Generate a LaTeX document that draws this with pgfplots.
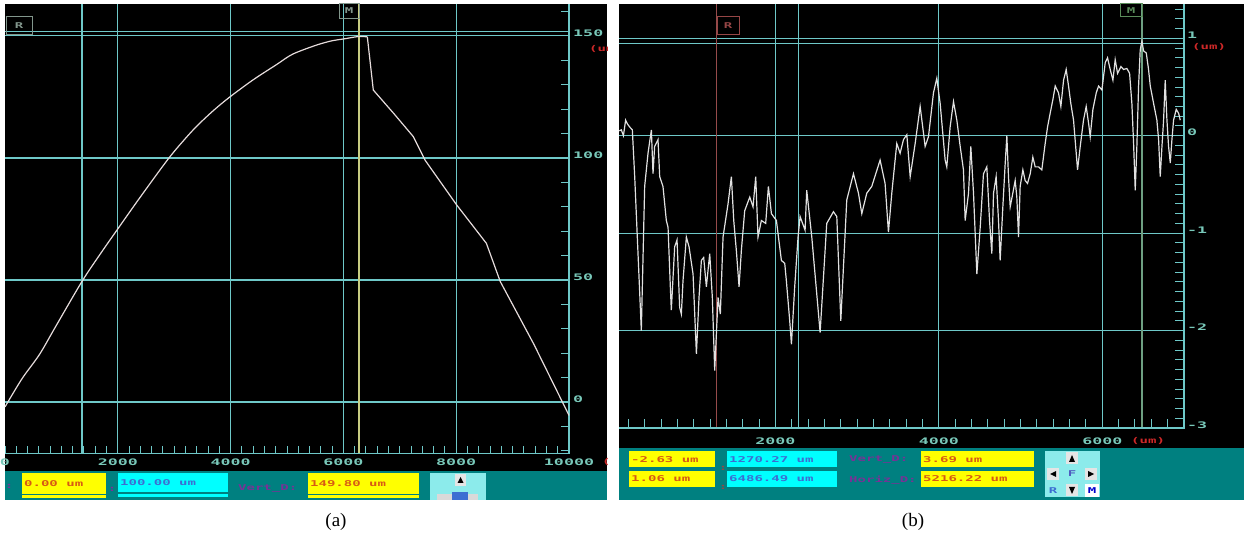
\documentclass[border=0pt]{standalone}
\usepackage{pgfplots}
\pgfplotsset{compat=1.18}
\usepackage{pgfplotstable}
\usepackage{graphicx}
\usepackage{fontspec}
\setmainfont{Liberation Serif}
\newfontfamily\scr{DejaVu Sans Mono}
\definecolor{gridc}{RGB}{110,200,200}
\definecolor{labc}{RGB}{120,200,185}
\definecolor{tealbar}{RGB}{0,128,128}
\definecolor{ybox}{RGB}{255,255,0}
\definecolor{yboxtxt}{RGB}{215,90,20}
\definecolor{cbox}{RGB}{0,255,255}
\definecolor{cboxtxt}{RGB}{60,110,210}
\definecolor{purp}{RGB}{120,50,150}
\definecolor{redlab}{RGB}{205,40,40}
\definecolor{curveA}{RGB}{230,220,220}
\definecolor{curveB}{RGB}{225,225,225}
\definecolor{cursM}{RGB}{200,205,130}
\definecolor{boxg}{RGB}{130,150,140}
\definecolor{boxr}{RGB}{150,70,70}
\definecolor{boxm}{RGB}{90,140,90}
\definecolor{cursR}{RGB}{150,75,75}
\definecolor{cursMb}{RGB}{110,160,130}
\definecolor{iconbg}{RGB}{140,235,235}
\newcommand{\tl}[1]{\scalebox{1.85}[1]{\scr\bfseries\fontsize{9}{9}\selectfont #1}}
\newcommand{\st}[1]{\scalebox{1.75}[1]{\scr\bfseries\fontsize{8}{8}\selectfont #1}}

% rising part of profile (a)
\pgfplotstableread{
x y
0 -2
300 9.5
612 19.5
900 31
1370 49.6
1700 61
1993 70.7
2400 84
2891 99.5
3200 108
3417 113.4
3700 119.5
3977 124.8
4400 132
4819 138.3
5100 142.5
5520 146.2
5800 148
5997 148.7
6257 149.7
6424 149.6
}\dataAup
% falling part of profile (a)
\pgfplotstableread{
x y
6424 149.6
6530 127.8
6900 118
7240 108.7
7447 99.1
8009 80.7
8535 65
8780 49.4
9376 23.7
10000 -5.5
}\dataAdown

\pgfplotstableread{
x y
90 0.05
114 0.06
140 0.0
167 0.16
190 0.12
216 0.09
249 0.06
278 -0.42
318 -1.20
359 -2.00
400 -0.52
441 -0.18
482 0.06
502 -0.39
522 -0.11
563 -0.04
584 -0.42
624 -0.52
665 -0.87
686 -0.94
714 -1.55
726 -1.79
767 -1.14
796 -1.07
828 -1.76
849 -1.83
869 -1.49
910 -1.04
943 -1.14
992 -1.42
1033 -2.24
1065 -1.66
1094 -1.28
1122 -1.25
1155 -1.55
1196 -1.21
1228 -1.66
1257 -2.41
1298 -1.66
1326 -1.83
1359 -1.04
1420 -0.70
1461 -0.42
1490 -0.87
1522 -1.18
1555 -1.55
1583 -1.18
1624 -0.77
1686 -0.63
1726 -0.73
1759 -0.42
1787 -1.04
1828 -0.87
1881 -0.90
1914 -0.52
1951 -0.80
2012 -0.87
2073 -1.28
2114 -1.31
2134 -1.49
2175 -1.90
2196 -2.14
2236 -1.55
2277 -1.04
2302 -0.83
2363 -0.97
2383 -0.56
2445 -1.04
2547 -2.02
2628 -0.90
2710 -0.78
2751 -0.83
2800 -1.90
2873 -0.66
2955 -0.39
3016 -0.59
3057 -0.80
3118 -0.59
3179 -0.52
3281 -0.25
3342 -0.49
3383 -0.99
3424 -0.59
3485 -0.08
3526 -0.18
3567 -0.04
3608 0.01
3649 -0.42
3710 -0.08
3771 0.30
3832 -0.11
3873 -0.01
3934 0.44
3975 0.59
4016 0.33
4077 -0.25
4097 -0.32
4138 0.09
4179 0.35
4220 0.16
4261 -0.11
4301 -0.35
4322 -0.87
4363 -0.59
4391 -0.11
4424 -0.59
4465 -1.42
4506 -0.94
4546 -0.39
4587 -0.32
4620 -0.87
4648 -1.21
4669 -0.59
4701 -0.42
4730 -0.87
4750 -1.28
4783 -0.73
4812 -0.28
4832 0.00
4852 -0.42
4873 -0.73
4905 -0.59
4934 -0.46
4954 -0.63
4975 -1.04
4995 -0.52
5028 -0.35
5056 -0.46
5085 -0.49
5118 -0.39
5150 -0.22
5179 -0.32
5220 -0.32
5260 -0.35
5301 -0.08
5330 0.09
5362 0.23
5395 0.37
5424 0.51
5464 0.44
5493 0.30
5526 0.57
5558 0.68
5587 0.51
5615 0.33
5648 0.16
5681 -0.18
5697 -0.35
5730 -0.11
5770 0.16
5803 0.30
5832 0.13
5852 -0.01
5885 0.27
5926 0.44
5954 0.51
5995 0.47
6036 0.75
6064 0.80
6097 0.68
6130 0.57
6158 0.78
6187 0.64
6228 0.71
6260 0.68
6301 0.69
6334 0.64
6362 0.33
6383 -0.08
6403 -0.56
6423 -0.11
6444 0.51
6464 0.88
6485 0.97
6505 0.87
6538 0.85
6566 0.68
6587 0.51
6628 0.33
6668 0.16
6689 -0.04
6709 -0.42
6730 -0.11
6750 0.16
6770 0.57
6791 0.16
6811 -0.11
6832 -0.28
6852 -0.04
6872 0.16
6905 0.27
6934 0.23
6954 0.16
}\dataB

\begin{document}
\begin{tikzpicture}
\begin{scope}[x=1pt,y=-1pt]
\path[use as bounding box] (0,0) rectangle (1244,545);
\fill[black] (5,4) rectangle (607,471);
\fill[black] (619,4) rectangle (1244,448.4);
\end{scope}

% ---------------- panel (a)
\begin{axis}[at={(5pt,-453.6pt)}, anchor=south west, scale only axis,
  width=564pt, height=449.6pt,
  xmin=0, xmax=10000, ymin=-21.14, ymax=163.05,
  axis line style={draw=none}, clip=false,
  xtick={0,2000,4000,6000,8000,10000},
  xticklabels={\tl{0},\tl{2000},\tl{4000},\tl{6000},\tl{8000},\tl{10000}},
  minor xtick={200,400,...,9800},
  ytick={0,50,100,150}, yticklabels={\tl{0},\tl{50},\tl{100},\tl{150}},
  minor ytick={-20,-10,...,160},
  xtick pos=left, ytick pos=right, xticklabel pos=left, yticklabel pos=right,
  tick align=inside, major tick length=8pt, minor tick length=8pt,
  tick style={gridc, line width=1pt},
  xticklabel style={anchor=center, yshift=-8.5pt, text=labc, inner sep=0pt},
  yticklabel style={anchor=west, xshift=4pt, yshift=3pt, text=labc, inner sep=0pt},
]
\foreach \v in {2000,4000,6000,8000}{\edef\tmp{\noexpand\draw[gridc, line width=1.2pt] (\v,-21.14) -- (\v,163.05);}\tmp}
\foreach \v in {0,50,100,150}{\edef\tmp{\noexpand\draw[gridc, line width=1.2pt] (0,\v) -- (10000,\v);}\tmp}
\draw[gridc, line width=1.2pt] (0,151.7) -- (10000,151.7);
\draw[gridc, line width=1.2pt] (1365,-21.14) -- (1365,163.05);
\draw[cursM, line width=1.2pt] (6277,-21.14) -- (6277,163.05);
\draw[gridc, line width=1.2pt] (0,-21.14) -- (10000,-21.14) -- (10000,163.05);
\addplot[curveA, line width=1.2pt, smooth, tension=0.5] table {\dataAup};
\addplot[curveA, line width=1.2pt] table {\dataAdown};
\end{axis}

% ---------------- panel (b)
\begin{axis}[at={(619pt,-428pt)}, anchor=south west, scale only axis,
  width=565pt, height=424pt,
  xmin=86, xmax=7000, ymin=-3, ymax=1.352,
  axis line style={draw=none}, clip=false,
  xtick={2000,4000,6000},
  xticklabels={\tl{2000},\tl{4000},\tl{6000}},
  minor xtick={200,400,...,6800},
  ytick={-3,-2,-1,0,1}, yticklabels={\tl{-3},\tl{-2},\tl{-1},\tl{0},\tl{1}},
  minor ytick={-2.9,-2.8,...,1.3},
  xtick pos=left, ytick pos=right, xticklabel pos=left, yticklabel pos=right,
  tick align=inside, major tick length=9pt, minor tick length=9pt,
  tick style={gridc, line width=1pt},
  xticklabel style={anchor=center, yshift=-13pt, text=labc, inner sep=0pt},
  yticklabel style={anchor=west, xshift=3pt, yshift=3pt, text=labc, inner sep=0pt},
]
\foreach \v in {2000,2281,4000,6000}{\edef\tmp{\noexpand\draw[gridc, line width=1.2pt] (\v,-3) -- (\v,1.352);}\tmp}
\foreach \v in {-2,-1,0,1}{\edef\tmp{\noexpand\draw[gridc, line width=1.2pt] (86,\v) -- (7000,\v);}\tmp}
\draw[gridc, line width=1.2pt] (86,0.948) -- (7000,0.948);
\draw[cursR, line width=1.2pt] (1277,-3) -- (1277,1.352);
\draw[cursMb, line width=1.2pt] (6485,-3) -- (6485,1.352);
\draw[gridc, line width=1.2pt] (86,-3) -- (7000,-3) -- (7000,1.352);
\addplot[curveB, line width=1.2pt] table {\dataB};
\end{axis}

\begin{scope}[x=1pt,y=-1pt]
% cursor boxes
\draw[boxg, line width=1pt] (6,17) rectangle (32,35);
\node[text=boxg, inner sep=0] at (19,26) {\st{R}};
\draw[boxg, line width=1pt] (339,4) rectangle (359,19);
\node[text=boxg, inner sep=0] at (349,11) {\st{M}};
\draw[boxr, line width=1pt] (717,17) rectangle (739,35);
\node[text=boxr, inner sep=0] at (728,26) {\st{R}};
\draw[boxm, line width=1pt] (1120,4) rectangle (1142,17);
\node[text=boxm, inner sep=0] at (1131,10.5) {\st{M}};
% red unit labels
\begin{scope}
\clip (5,4) rectangle (607,471);
\node[anchor=west, text=redlab, inner sep=0] at (589,49) {\st{(um)}};
\node[anchor=west, text=redlab, inner sep=0] at (602,462) {\st{(um)}};
\end{scope}
\node[anchor=west, text=redlab, inner sep=0] at (1192,47) {\st{(um)}};
\node[anchor=west, text=redlab, inner sep=0] at (1131,441) {\st{(um)}};

% status bar (a)
\fill[tealbar] (5,471) rectangle (607,500.5);
\fill[ybox] (22,473.4) rectangle (106,493.6);
\fill[ybox] (22,495.2) rectangle (106,497.8);
\fill[cbox] (118,473.4) rectangle (228,492.4);
\fill[cbox] (118,494.2) rectangle (228,496.6);
\fill[ybox] (308,473.4) rectangle (419,493.6);
\fill[ybox] (308,495.2) rectangle (419,497.8);
\fill[iconbg] (430,473.4) rectangle (486,500.5);
\fill[white!80!gray] (455,474) rectangle (466,486);
\fill[black] (457.5,483) -- (463.5,483) -- (460.5,477) -- cycle;
\fill[white!70!gray] (437,494) rectangle (478,500.5);
\fill[cboxtxt] (452,492) rectangle (468,500.5);
\node[anchor=west, text=yboxtxt, inner sep=0] at (24,483.5) {\st{0.00 um}};
\node[anchor=west, text=cboxtxt, inner sep=0] at (120,482.5) {\st{100.00 um}};
\node[anchor=west, text=purp, inner sep=0] at (238,489) {\st{Vert\_D:}};
\node[anchor=west, text=yboxtxt, inner sep=0] at (310,483.5) {\st{149.80 um}};
\node[text=purp, inner sep=0] at (9,486) {\st{:}};
\node[text=purp, inner sep=0] at (112,489) {\st{:}};

% status bar (b)
\fill[tealbar] (619,448.4) rectangle (1244,500.5);
\fill[ybox] (629,451) rectangle (715,467.5);
\fill[ybox] (629,471) rectangle (715,487);
\fill[cbox] (727,451) rectangle (837,467.5);
\fill[cbox] (727,471) rectangle (837,487);
\fill[ybox] (921,451) rectangle (1034,467.5);
\fill[ybox] (921,471) rectangle (1034,487);
\node[anchor=west, text=yboxtxt, inner sep=0] at (631,459.5) {\st{-2.63 um}};
\node[anchor=west, text=yboxtxt, inner sep=0] at (631,479) {\st{1.06 um}};
\node[anchor=west, text=cboxtxt, inner sep=0] at (729,459.5) {\st{1270.27 um}};
\node[anchor=west, text=cboxtxt, inner sep=0] at (729,479) {\st{6486.49 um}};
\node[anchor=west, text=purp, inner sep=0] at (849,460) {\st{Vert\_D:}};
\node[anchor=west, text=purp, inner sep=0] at (849,480) {\st{Horiz\_D:}};
\node[anchor=west, text=yboxtxt, inner sep=0] at (923,459.5) {\st{3.69 um}};
\node[anchor=west, text=yboxtxt, inner sep=0] at (923,479) {\st{5216.22 um}};
\node[text=boxr, inner sep=0] at (723,468) {\st{:}};
\node[text=boxr, inner sep=0] at (723,487) {\st{:}};
% icon pad
\fill[iconbg] (1045,451) rectangle (1100,497);
\fill[white!80!gray] (1066,452) rectangle (1078,464);
\fill[black] (1069,462) -- (1075,462) -- (1072,455) -- cycle;
\fill[white!80!gray] (1047,468) rectangle (1059,480);
\fill[black] (1050,474) -- (1056,471) -- (1056,477) -- cycle;
\fill[white!80!gray] (1085,468) rectangle (1097,480);
\fill[black] (1094,474) -- (1088,471) -- (1088,477) -- cycle;
\node[text=cboxtxt!70!purp, inner sep=0] at (1072,474) {\st{F}};
\fill[white!80!gray] (1066,484) rectangle (1078,496);
\fill[black] (1069,487) -- (1075,487) -- (1072,494) -- cycle;
\fill[white] (1085,484) rectangle (1099,497);
\node[text=cboxtxt, inner sep=0] at (1053,491) {\st{R}};
\node[text=blue!80!black, inner sep=0] at (1092,491) {\st{M}};

% captions
\node[font=\fontsize{19}{19}\selectfont, inner sep=0] at (336,522) {(a)};
\node[font=\fontsize{19}{19}\selectfont, inner sep=0] at (913,522) {(b)};
\end{scope}
\end{tikzpicture}
\end{document}
